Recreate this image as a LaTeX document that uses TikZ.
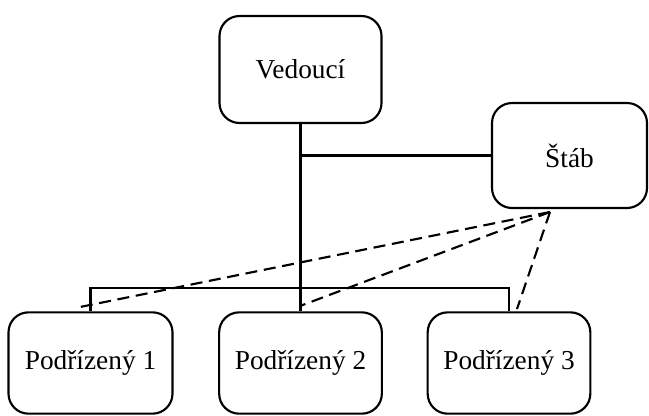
\documentclass[tikz,border=0pt]{standalone}
\usepackage{fontspec}
\setmainfont{Liberation Serif}
\begin{document}
\begin{tikzpicture}[x=0.75pt,y=-0.75pt,
  unit/.style={draw=black,line width=1.6pt,rounded corners=15pt,fill=white,
    inner sep=0pt,font=\fontsize{20.5}{24}\selectfont,anchor=center},
  link/.style={draw=black,line width=1.6pt},
  staff/.style={draw=black,line width=1.6pt,dash pattern=on 9pt off 5pt}]
\useasboundingbox (0,0) rectangle (649,415);
% boxes
\node[unit,minimum width=121.5pt,minimum height=80.25pt] (head) at (300.5,69.5) {Vedoucí};
\node[unit,minimum width=116.25pt,minimum height=78.75pt] (staff) at (569.5,155.5) {Štáb};
\node[unit,minimum width=123pt,minimum height=76pt] (s1) at (90.5,363) {Podřízený 1};
\node[unit,minimum width=122pt,minimum height=76pt] (s2) at (300.5,363) {Podřízený 2};
\node[unit,minimum width=122pt,minimum height=76pt] (s3) at (509,363) {Podřízený 3};
% line of command
\coordinate (bus) at (301,288);
\draw[link] (head.south) -- (s2.north);
\draw[link] (head.south |- staff.west) -- (staff.west);
\draw[link] (s1.north) -- (s1.north |- bus) -- (s3.north |- bus) -- (s3.north);
% advisory lines from the staff
\coordinate (adv) at (550,212);
\coordinate (e1) at (80,307);
\coordinate (e2) at (300,306);
\coordinate (e3) at (517,309);
\draw[staff] (adv) -- (e1);
\draw[staff] (adv) -- (e2);
\draw[staff] (adv) -- (e3);
\end{tikzpicture}
\end{document}
